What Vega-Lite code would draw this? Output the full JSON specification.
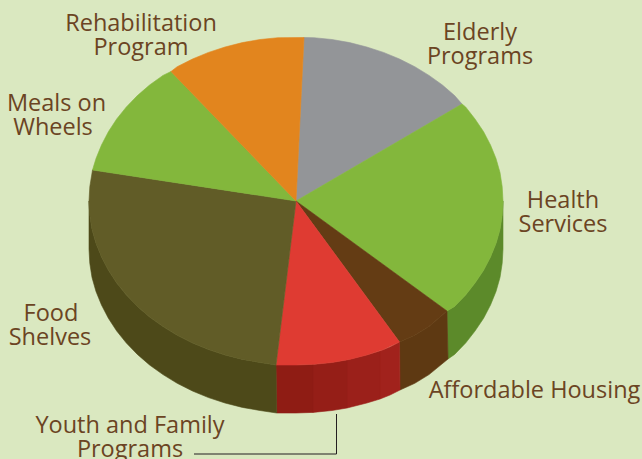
{"$schema":"https://vega.github.io/schema/vega-lite/v6.json","width":642,"height":459,"autosize":"none","padding":0,"background":"#dae8c0","view":{"stroke":null},
"datasets":{
"walls":[
{"p":"HealthW","o":0,"x":503,"y":201},{"p":"HealthW","o":1,"x":502.2,"y":215.3},{"p":"HealthW","o":2,"x":500,"y":229.5},{"p":"HealthW","o":3,"x":496,"y":243.5},{"p":"HealthW","o":4,"x":490.5,"y":257},{"p":"HealthW","o":5,"x":483.6,"y":270.3},{"p":"HealthW","o":6,"x":475,"y":283},{"p":"HealthW","o":7,"x":465.6,"y":295.1},{"p":"HealthW","o":8,"x":454.6,"y":306.4},{"p":"HealthW","o":9,"x":447,"y":311},{"p":"HealthW","o":10,"x":448,"y":359},{"p":"HealthW","o":11,"x":454.6,"y":354.4},{"p":"HealthW","o":12,"x":465.6,"y":343.1},{"p":"HealthW","o":13,"x":475,"y":331},{"p":"HealthW","o":14,"x":483.6,"y":318.3},{"p":"HealthW","o":15,"x":490.5,"y":305},{"p":"HealthW","o":16,"x":496,"y":291.5},{"p":"HealthW","o":17,"x":500,"y":277.5},{"p":"HealthW","o":18,"x":502.2,"y":263.3},{"p":"HealthW","o":19,"x":503,"y":249},
{"p":"AffordW","o":0,"x":447,"y":311},{"p":"AffordW","o":1,"x":429,"y":326.6},{"p":"AffordW","o":2,"x":414.8,"y":335.3},{"p":"AffordW","o":3,"x":399.5,"y":342},{"p":"AffordW","o":4,"x":400,"y":390},{"p":"AffordW","o":5,"x":414.8,"y":383.3},{"p":"AffordW","o":6,"x":429,"y":374.6},{"p":"AffordW","o":7,"x":448,"y":359},
{"p":"Red4","o":0,"x":399.5,"y":342},{"p":"Red4","o":1,"x":390,"y":347},{"p":"Red4","o":2,"x":380,"y":351},{"p":"Red4","o":3,"x":380,"y":399},{"p":"Red4","o":4,"x":390,"y":395},{"p":"Red4","o":5,"x":400,"y":390},
{"p":"Red3","o":0,"x":380,"y":351},{"p":"Red3","o":1,"x":366.8,"y":355},{"p":"Red3","o":2,"x":347,"y":360},{"p":"Red3","o":3,"x":347,"y":408},{"p":"Red3","o":4,"x":366.8,"y":403},{"p":"Red3","o":5,"x":380,"y":399},
{"p":"Red2","o":0,"x":347,"y":360},{"p":"Red2","o":1,"x":332,"y":362.5},{"p":"Red2","o":2,"x":313,"y":364.4},{"p":"Red2","o":3,"x":313,"y":412.4},{"p":"Red2","o":4,"x":332,"y":410.5},{"p":"Red2","o":5,"x":347,"y":408},
{"p":"Red1","o":0,"x":313,"y":364.4},{"p":"Red1","o":1,"x":296,"y":365},{"p":"Red1","o":2,"x":276,"y":365},{"p":"Red1","o":3,"x":276.7,"y":413},{"p":"Red1","o":4,"x":296,"y":413},{"p":"Red1","o":5,"x":313,"y":412.4},
{"p":"FoodW","o":0,"x":276,"y":365},{"p":"FoodW","o":1,"x":260,"y":362.5},{"p":"FoodW","o":2,"x":242.4,"y":359.4},{"p":"FoodW","o":3,"x":225,"y":355},{"p":"FoodW","o":4,"x":208.5,"y":349.6},{"p":"FoodW","o":5,"x":192.5,"y":343},{"p":"FoodW","o":6,"x":177.2,"y":335.3},{"p":"FoodW","o":7,"x":163,"y":326.6},{"p":"FoodW","o":8,"x":149.6,"y":317},{"p":"FoodW","o":9,"x":137.4,"y":306.4},{"p":"FoodW","o":10,"x":126.4,"y":295.1},{"p":"FoodW","o":11,"x":116.7,"y":283},{"p":"FoodW","o":12,"x":108.4,"y":270.3},{"p":"FoodW","o":13,"x":101.5,"y":257},{"p":"FoodW","o":14,"x":96,"y":243.5},{"p":"FoodW","o":15,"x":92,"y":229.5},{"p":"FoodW","o":16,"x":89.8,"y":215.3},{"p":"FoodW","o":17,"x":89,"y":201},{"p":"FoodW","o":18,"x":89,"y":249},{"p":"FoodW","o":19,"x":89.8,"y":263.3},{"p":"FoodW","o":20,"x":92,"y":277.5},{"p":"FoodW","o":21,"x":96,"y":291.5},{"p":"FoodW","o":22,"x":101.5,"y":305},{"p":"FoodW","o":23,"x":108.4,"y":318.3},{"p":"FoodW","o":24,"x":116.7,"y":331},{"p":"FoodW","o":25,"x":126.4,"y":343.1},{"p":"FoodW","o":26,"x":137.4,"y":354.4},{"p":"FoodW","o":27,"x":149.6,"y":365},{"p":"FoodW","o":28,"x":163,"y":374.6},{"p":"FoodW","o":29,"x":177.2,"y":383.3},{"p":"FoodW","o":30,"x":192.5,"y":391},{"p":"FoodW","o":31,"x":208.5,"y":397.6},{"p":"FoodW","o":32,"x":225,"y":403},{"p":"FoodW","o":33,"x":242.4,"y":407.4},{"p":"FoodW","o":34,"x":260,"y":410.5},{"p":"FoodW","o":35,"x":276.7,"y":413}
],
"tops":[
{"p":"Elderly Programs","o":0,"x":296,"y":201},{"p":"Elderly Programs","o":1,"x":304,"y":37.5},{"p":"Elderly Programs","o":2,"x":314,"y":37.7},{"p":"Elderly Programs","o":3,"x":332,"y":39.5},{"p":"Elderly Programs","o":4,"x":349.6,"y":42.6},{"p":"Elderly Programs","o":5,"x":366.8,"y":47},{"p":"Elderly Programs","o":6,"x":383.5,"y":52.4},{"p":"Elderly Programs","o":7,"x":399.5,"y":59},{"p":"Elderly Programs","o":8,"x":414.8,"y":66.7},{"p":"Elderly Programs","o":9,"x":429,"y":75.4},{"p":"Elderly Programs","o":10,"x":442.4,"y":85},{"p":"Elderly Programs","o":11,"x":454.6,"y":95.6},{"p":"Elderly Programs","o":12,"x":462,"y":104},
{"p":"Health Services","o":0,"x":296,"y":201},{"p":"Health Services","o":1,"x":462,"y":104},{"p":"Health Services","o":2,"x":465.6,"y":106.9},{"p":"Health Services","o":3,"x":475,"y":119},{"p":"Health Services","o":4,"x":483.6,"y":131.7},{"p":"Health Services","o":5,"x":490.5,"y":145},{"p":"Health Services","o":6,"x":496,"y":158.5},{"p":"Health Services","o":7,"x":500,"y":172.5},{"p":"Health Services","o":8,"x":502.2,"y":186.7},{"p":"Health Services","o":9,"x":503,"y":201},{"p":"Health Services","o":10,"x":502.2,"y":215.3},{"p":"Health Services","o":11,"x":500,"y":229.5},{"p":"Health Services","o":12,"x":496,"y":243.5},{"p":"Health Services","o":13,"x":490.5,"y":257},{"p":"Health Services","o":14,"x":483.6,"y":270.3},{"p":"Health Services","o":15,"x":475,"y":283},{"p":"Health Services","o":16,"x":465.6,"y":295.1},{"p":"Health Services","o":17,"x":454.6,"y":306.4},{"p":"Health Services","o":18,"x":447,"y":311},
{"p":"Affordable Housing","o":0,"x":296,"y":201},{"p":"Affordable Housing","o":1,"x":447,"y":311},{"p":"Affordable Housing","o":2,"x":429,"y":326.6},{"p":"Affordable Housing","o":3,"x":414.8,"y":335.3},{"p":"Affordable Housing","o":4,"x":399.5,"y":342},
{"p":"Youth and Family Programs","o":0,"x":296,"y":201},{"p":"Youth and Family Programs","o":1,"x":399.5,"y":342},{"p":"Youth and Family Programs","o":2,"x":383.5,"y":349.6},{"p":"Youth and Family Programs","o":3,"x":366.8,"y":355},{"p":"Youth and Family Programs","o":4,"x":349.6,"y":359.4},{"p":"Youth and Family Programs","o":5,"x":332,"y":362.5},{"p":"Youth and Family Programs","o":6,"x":314,"y":364.3},{"p":"Youth and Family Programs","o":7,"x":296,"y":365},{"p":"Youth and Family Programs","o":8,"x":276,"y":365},
{"p":"Food Shelves","o":0,"x":296,"y":201},{"p":"Food Shelves","o":1,"x":276,"y":365},{"p":"Food Shelves","o":2,"x":260,"y":362.5},{"p":"Food Shelves","o":3,"x":242.4,"y":359.4},{"p":"Food Shelves","o":4,"x":225,"y":355},{"p":"Food Shelves","o":5,"x":208.5,"y":349.6},{"p":"Food Shelves","o":6,"x":192.5,"y":343},{"p":"Food Shelves","o":7,"x":177.2,"y":335.3},{"p":"Food Shelves","o":8,"x":163,"y":326.6},{"p":"Food Shelves","o":9,"x":149.6,"y":317},{"p":"Food Shelves","o":10,"x":137.4,"y":306.4},{"p":"Food Shelves","o":11,"x":126.4,"y":295.1},{"p":"Food Shelves","o":12,"x":116.7,"y":283},{"p":"Food Shelves","o":13,"x":108.4,"y":270.3},{"p":"Food Shelves","o":14,"x":101.5,"y":257},{"p":"Food Shelves","o":15,"x":96,"y":243.5},{"p":"Food Shelves","o":16,"x":92,"y":229.5},{"p":"Food Shelves","o":17,"x":89.8,"y":215.3},{"p":"Food Shelves","o":18,"x":89,"y":201},{"p":"Food Shelves","o":19,"x":89.8,"y":186.7},{"p":"Food Shelves","o":20,"x":92.5,"y":170},
{"p":"Meals on Wheels","o":0,"x":296,"y":201},{"p":"Meals on Wheels","o":1,"x":92.5,"y":170},{"p":"Meals on Wheels","o":2,"x":96,"y":158.5},{"p":"Meals on Wheels","o":3,"x":101.5,"y":145},{"p":"Meals on Wheels","o":4,"x":108.4,"y":131.7},{"p":"Meals on Wheels","o":5,"x":116.7,"y":119},{"p":"Meals on Wheels","o":6,"x":126.4,"y":106.9},{"p":"Meals on Wheels","o":7,"x":137.4,"y":95.6},{"p":"Meals on Wheels","o":8,"x":149.6,"y":85},{"p":"Meals on Wheels","o":9,"x":163,"y":75.4},{"p":"Meals on Wheels","o":10,"x":171,"y":71.5},
{"p":"Rehabilitation Program","o":0,"x":296,"y":201},{"p":"Rehabilitation Program","o":1,"x":171,"y":71.5},{"p":"Rehabilitation Program","o":2,"x":177.2,"y":66.7},{"p":"Rehabilitation Program","o":3,"x":192.5,"y":59},{"p":"Rehabilitation Program","o":4,"x":208.5,"y":52.4},{"p":"Rehabilitation Program","o":5,"x":225,"y":47},{"p":"Rehabilitation Program","o":6,"x":242.4,"y":42.6},{"p":"Rehabilitation Program","o":7,"x":260,"y":39.5},{"p":"Rehabilitation Program","o":8,"x":278,"y":37.7},{"p":"Rehabilitation Program","o":9,"x":304,"y":37.5}
],
"labels":[
{"t":"Rehabilitation","x":141,"y":31},{"t":"Program","x":141,"y":55},{"t":"Meals on","x":56.5,"y":111},{"t":"Wheels","x":53,"y":135},{"t":"Elderly","x":480,"y":40},{"t":"Programs","x":480,"y":64},{"t":"Health","x":563,"y":208},{"t":"Services","x":563,"y":232},{"t":"Affordable Housing","x":534.5,"y":398},{"t":"Food","x":51,"y":321},{"t":"Shelves","x":50,"y":345},{"t":"Youth and Family","x":130,"y":433},{"t":"Programs","x":130,"y":457}
],
"leader":[{"o":0,"x":336.5,"y":414},{"o":1,"x":336.5,"y":454},{"o":2,"x":194,"y":454}]
},
"layer":[
{"data":{"name":"walls"},"mark":{"type":"line","strokeWidth":0.6,"interpolate":"linear-closed"},
"encoding":{"x":{"field":"x","type":"quantitative","scale":{"domain":[0,642]},"axis":null},"y":{"field":"y","type":"quantitative","scale":{"domain":[459,0]},"axis":null},"order":{"field":"o"},"detail":{"field":"p"},
"fill":{"field":"p","type":"nominal","legend":null,"scale":{"domain":["HealthW","AffordW","Red4","Red3","Red2","Red1","FoodW"],"range":["#5c8a2a","#5e3912","#a1221c","#9b201a","#951e17","#8f1c14","#4d4919"]}},
"stroke":{"field":"p","type":"nominal","legend":null,"scale":{"domain":["HealthW","AffordW","Red4","Red3","Red2","Red1","FoodW"],"range":["#5c8a2a","#5e3912","#a1221c","#9b201a","#951e17","#8f1c14","#4d4919"]}}}},
{"data":{"name":"tops"},"mark":{"type":"line","strokeWidth":0.6,"interpolate":"linear-closed"},
"encoding":{"x":{"field":"x","type":"quantitative","scale":{"domain":[0,642]},"axis":null},"y":{"field":"y","type":"quantitative","scale":{"domain":[459,0]},"axis":null},"order":{"field":"o"},"detail":{"field":"p"},
"fill":{"field":"p","type":"nominal","legend":null,"scale":{"domain":["Elderly Programs","Health Services","Affordable Housing","Youth and Family Programs","Food Shelves","Meals on Wheels","Rehabilitation Program"],"range":["#939598","#83b73c","#643c14","#df3b32","#615c27","#83b73c","#e2851e"]}},
"stroke":{"field":"p","type":"nominal","legend":null,"scale":{"domain":["Elderly Programs","Health Services","Affordable Housing","Youth and Family Programs","Food Shelves","Meals on Wheels","Rehabilitation Program"],"range":["#939598","#83b73c","#643c14","#df3b32","#615c27","#83b73c","#e2851e"]}}}},
{"data":{"name":"leader"},"mark":{"type":"line","stroke":"#231f20","strokeWidth":1,"fill":null},
"encoding":{"x":{"field":"x","type":"quantitative","scale":{"domain":[0,642]},"axis":null},"y":{"field":"y","type":"quantitative","scale":{"domain":[459,0]},"axis":null},"order":{"field":"o"}}},
{"data":{"name":"labels"},"mark":{"type":"text","font":"Open Sans","fontSize":23.5,"fill":"#6b4423","align":"center","baseline":"alphabetic"},
"encoding":{"x":{"field":"x","type":"quantitative","scale":{"domain":[0,642]},"axis":null},"y":{"field":"y","type":"quantitative","scale":{"domain":[459,0]},"axis":null},"text":{"field":"t"}}}
],
"resolve":{"scale":{"fill":"independent","stroke":"independent"}},
"config":{"view":{"stroke":null}}}
